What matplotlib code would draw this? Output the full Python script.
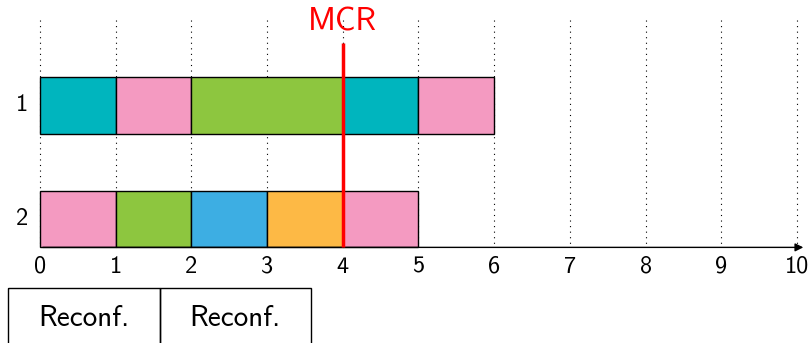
import matplotlib.pyplot as plt
from matplotlib.patches import Rectangle

# schedule per row: start, duration, colour
rows = [1, 2]
row_labels = ['1', '2']
row1_start = [0, 1, 2, 4, 5]
row1_dur = [1, 1, 2, 1, 1]
row1_col = ['#00B5BE', '#F49AC1', '#8DC63F', '#00B5BE', '#F49AC1']
row2_start = [0, 1, 2, 3, 4]
row2_dur = [1, 1, 1, 1, 1]
row2_col = ['#F49AC1', '#8DC63F', '#3DAEE3', '#FDB945', '#F49AC1']
xticks = list(range(11))
mcr = 4
reconf_labels = ['Reconf.', 'Reconf.']

plt.rcParams['font.family'] = ['cmss10', 'DejaVu Sans']

fig = plt.figure(figsize=(8.12, 3.43), dpi=100)
ax = fig.add_axes([0, 0, 1, 1])
ax.set_xlim(-40 / 75.7, 772 / 75.7)
ax.set_ylim(3.0925, 0.0705)
ax.axis('off')

# dotted grid
ax.vlines(xticks, 0.25, 2.25, colors='black', linestyles=(0, (1, 4)), linewidth=0.8, zorder=0)

for y, starts, durs, cols in [(1, row1_start, row1_dur, row1_col), (2, row2_start, row2_dur, row2_col)]:
    ax.barh(y, durs, left=starts, height=0.5, color=cols, edgecolor='black', linewidth=1, zorder=2)

for y, lab in zip(rows, row_labels):
    ax.text(-0.24, y, lab, ha='center', va='center', fontsize=17.5)

# time axis with arrow
ax.annotate('', xy=(10.12, 2.25), xytext=(0, 2.25),
            arrowprops=dict(arrowstyle='-|>', color='black', lw=1, mutation_scale=12), zorder=3)
for t in xticks:
    ax.text(t, 2.42, str(t), ha='center', va='center', fontsize=17.5)

# MCR marker
ax.vlines(mcr, 0.45, 2.25, colors='red', linewidth=2.5, zorder=4)
ax.text(mcr, 0.26, 'MCR', color='red', ha='center', va='center', fontsize=23)

# reconfiguration boxes
x0 = -0.42
for i, lab in enumerate(reconf_labels):
    ax.add_patch(Rectangle((x0 + 2 * i, 2.608), 2, 1.0, fill=False, edgecolor='black', linewidth=1, clip_on=False))
    ax.text(x0 + 2 * i + 1, 2.88, lab, ha='center', va='center', fontsize=21)

fig.savefig('out.png', dpi=100)
